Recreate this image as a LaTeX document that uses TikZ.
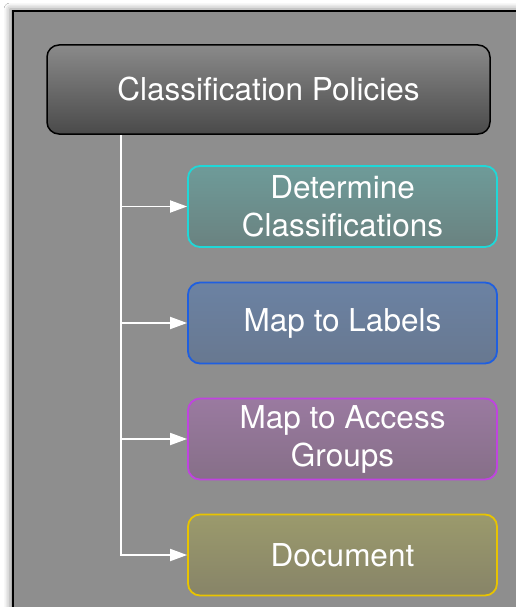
\documentclass[tikz,border=0pt]{standalone}
\usepackage{fontspec}
\setmainfont{TeX Gyre Heros}
\usetikzlibrary{arrows.meta,shadows.blur}

\definecolor{panelgray}{HTML}{8E8E8E}
\definecolor{rootTop}{HTML}{8A8A8A}
\definecolor{rootBot}{HTML}{4A4A4A}
\definecolor{tealTop}{HTML}{6E9B99}
\definecolor{tealBot}{HTML}{6A8280}
\definecolor{tealLine}{HTML}{1FD8D8}
\definecolor{blueTop}{HTML}{6B82A3}
\definecolor{blueBot}{HTML}{687890}
\definecolor{blueLine}{HTML}{1F5FE0}
\definecolor{purpTop}{HTML}{9A7AA0}
\definecolor{purpBot}{HTML}{866F88}
\definecolor{purpLine}{HTML}{C043E0}
\definecolor{oliveTop}{HTML}{9B9A6C}
\definecolor{oliveBot}{HTML}{878468}
\definecolor{oliveLine}{HTML}{E8C400}

\tikzset{
  box/.style={rounded corners=12pt, align=center, text=white, inner sep=0pt,
    font=\fontsize{31.5}{38}\selectfont},
  rootbox/.style={box, draw=black, line width=1.5pt, top color=rootTop, bottom color=rootBot,
    minimum width=443pt, minimum height=89pt},
  childbox/.style={box, line width=1.8pt, minimum width=309pt, minimum height=81pt},
  connector/.style={white, line width=1.8pt},
  arrowline/.style={connector, -{Triangle[length=17pt,width=12pt]}}
}

\begin{document}
\begin{tikzpicture}[x=1pt,y=-1pt]
  \useasboundingbox (0,0) rectangle (516,607);
  \clip (0,0) rectangle (516,607);

  % panel with soft shadow
  \path[fill=white] (0,0) rectangle (516,607);
  \draw[fill=panelgray, line width=1.5pt,
        blur shadow={shadow xshift=-3pt, shadow yshift=2pt, shadow blur radius=6pt, shadow opacity=45}]
    (13,11) rectangle (530,620);

  % boxes
  \node[rootbox] (root) at (268.5,89.5) {Classification Policies};
  \node[childbox, draw=tealLine, top color=tealTop, bottom color=tealBot] (c1) at (342.5,206.5)
    {Determine\\Classifications};
  \node[childbox, draw=blueLine, top color=blueTop, bottom color=blueBot] (c2) at (342.5,323)
    {Map to Labels};
  \node[childbox, draw=purpLine, top color=purpTop, bottom color=purpBot] (c3) at (342.5,439)
    {Map to Access\\Groups};
  \node[childbox, draw=oliveLine, top color=oliveTop, bottom color=oliveBot] (c4) at (342.5,555)
    {Document};

  % connectors
  \coordinate (trunk) at (121,0);
  \draw[arrowline] (root.south -| trunk) |- (c4.west);
  \draw[arrowline] (c1.west -| trunk) -- (c1.west);
  \draw[arrowline] (c2.west -| trunk) -- (c2.west);
  \draw[arrowline] (c3.west -| trunk) -- (c3.west);
\end{tikzpicture}
\end{document}
